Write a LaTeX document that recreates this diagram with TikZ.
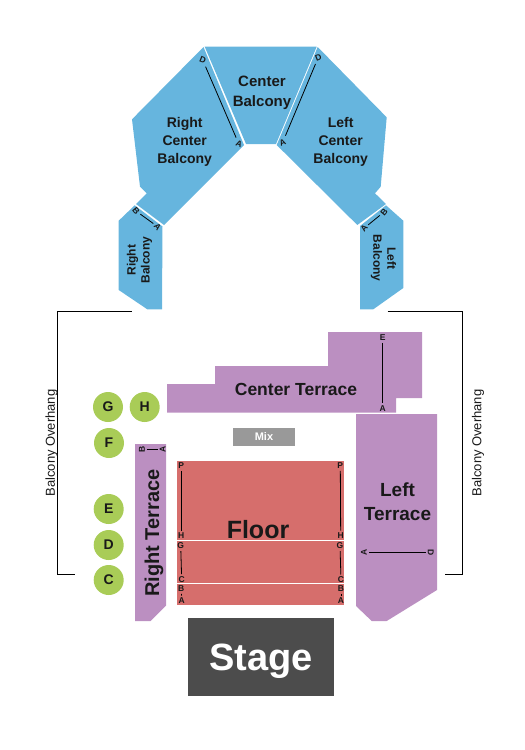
\documentclass[tikz,border=0pt]{standalone}
\usepackage{fontspec}
\setmainfont{Liberation Sans}
\usetikzlibrary{positioning}
\definecolor{balcony}{HTML}{66B5DE}
\definecolor{terrace}{HTML}{BB8FC1}
\definecolor{floorred}{HTML}{D66E6C}
\definecolor{pit}{HTML}{A9CC57}
\tikzset{
  seclabel/.style 2 args={
    font=\fontsize{#1}{#2}\selectfont\bfseries,
    align=center,
    text=black!90,
    inner sep=0pt
  },
  rowlabel/.style={
    font=\fontsize{8.5}{9}\selectfont\bfseries,
    text=black!90,
    inner sep=2pt
  },
  pitcircle/.style={
    circle,
    fill=pit,
    minimum size=30pt,
    inner sep=0pt,
    font=\fontsize{14}{16}\selectfont\bfseries,
    text=black!90
  },
  aisle/.style={
    black,
    line width=0.8pt
  },
  overhang/.style={
    black,
    line width=0.8pt
  }
}

\begin{document}
\begin{tikzpicture}[x=1pt,y=-1pt]
  \useasboundingbox (0,0) rectangle (525,750);

  % Balcony
  \fill[balcony]
    (204.7,46.7) -- (316.7,46.7) -- (276,144) -- (246,144) -- cycle;
  \fill[balcony]
    (203.5,47) -- (132,119.3) -- (140,186.7) -- (146.7,193.3) -- (136,204)
    -- (164,225) -- (244,145) -- cycle;
  \fill[balcony]
    (317.7,47) -- (386.7,117.3) -- (380.7,186.7) -- (375,193.3) -- (386,204)
    -- (357.3,225) -- (276.7,145) -- cycle;
  \fill[balcony]
    (134.7,205.3) -- (162.5,226.5) -- (162,309.3) -- (147.3,309.3)
    -- (118.7,290) -- (118.7,220.7) -- cycle;
  \fill[balcony]
    (386,205.3) -- (403.3,220.7) -- (403.3,288) -- (373.3,309.3)
    -- (360,309.3) -- (360,226) -- cycle;

  \node[seclabel={15}{20}] (centerbal) at (262,93) {Center\\Balcony};
  \node[seclabel={14}{18}] (rcenterbal) at (184.7,142) {Right\\Center\\Balcony};
  \node[seclabel={14}{18}] (lcenterbal) at (340.7,142) {Left\\Center\\Balcony};
  \node[seclabel={12}{14},rotate=90] (rbal) at (139.5,260) {Right\\Balcony};
  \node[seclabel={12}{14},rotate=-90] (lbal) at (383.5,258) {Left\\Balcony};

  \node[rowlabel,rotate=-22] (rcD) at (202.7,60) {D};
  \node[rowlabel,rotate=-22] (rcA) at (239,144.3) {A};
  \draw[aisle] (rcD) -- (rcA);
  \node[rowlabel,rotate=22] (lcD) at (318.3,57.3) {D};
  \node[rowlabel,rotate=22] (lcA) at (282.7,142.3) {A};
  \draw[aisle] (lcD) -- (lcA);
  \node[rowlabel,rotate=-50] (rbB) at (136,211) {B};
  \node[rowlabel,rotate=-50] (rbA) at (157.7,226.7) {A};
  \draw[aisle] (rbB) -- (rbA);
  \node[rowlabel,rotate=50] (lbB) at (384,212) {B};
  \node[rowlabel,rotate=50] (lbA) at (364,228.3) {A};
  \draw[aisle] (lbB) -- (lbA);

  % Overhang
  \coordinate (ohl0) at (131.7,311.3);
  \coordinate (ohl1) at (74.7,574.3);
  \coordinate (ohr0) at (387.7,311.3);
  \coordinate (ohr1) at (445,574.3);
  \draw[overhang] (ohl0) -- (57.3,311.3) -- (57.3,574.3) -- (ohl1);
  \draw[overhang] (ohr0) -- (462.3,311.3) -- (462.3,574.3) -- (ohr1);
  \node[seclabel={13}{15},font=\fontsize{13}{15}\selectfont,rotate=90] (ohltext) at (51.5,443) {Balcony Overhang};
  \node[seclabel={13}{15},font=\fontsize{13}{15}\selectfont,rotate=90] (ohrtext) at (478,443) {Balcony Overhang};

  % Terraces
  \fill[terrace]
    (167,384) -- (215,384) -- (215,366) -- (328,366) -- (328,332) -- (422,332)
    -- (422,398) -- (396,398) -- (396,412.7) -- (167,412.7) -- cycle;
  \fill[terrace]
    (356,414) -- (437,414) -- (437,590) -- (386.7,621) -- (371.7,621)
    -- (356,606) -- cycle;
  \fill[terrace]
    (135,444) -- (166,444) -- (166,605.7) -- (150.7,621) -- (135,621) -- cycle;

  \node[seclabel={17.5}{20}] (centerter) at (296,389) {Center Terrace};
  \node[seclabel={19}{24}] (leftter) at (397.5,502) {Left\\Terrace};
  \node[seclabel={20}{22},rotate=90] (rightter) at (154,533) {Right Terrace};

  \node[rowlabel] (ctE) at (382.7,337.7) {E};
  \node[rowlabel] (ctA) at (382.7,408.3) {A};
  \draw[aisle] (ctE) -- (ctA);
  \node[rowlabel,rotate=90] (rtB) at (142,449.7) {B};
  \node[rowlabel,rotate=90] (rtA) at (162.7,449.7) {A};
  \draw[aisle] (rtB) -- (rtA);
  \node[rowlabel,rotate=90] (ltA) at (364,552.3) {A};
  \node[rowlabel,rotate=-90] (ltD) at (430.7,552.3) {D};
  \draw[aisle] (ltA) -- (ltD);

  % Pit circles
  \node[pitcircle] (G) at (108,407) {G};
  \node[pitcircle] (H) at (144.7,407) {H};
  \node[pitcircle] (F) at (109,443) {F};
  \node[pitcircle] (E) at (108.7,509) {E};
  \node[pitcircle] (D) at (108.7,545) {D};
  \node[pitcircle] (C) at (108.7,580) {C};

  % Mix
  \node[
    fill=black!40,
    minimum width=62pt,
    minimum height=18pt,
    text=white,
    font=\fontsize{11}{13}\selectfont\bfseries
  ] (mix) at (264,437) {Mix};

  % Floor
  \fill[floorred] (177,461) rectangle (344,605);
  \coordinate (fl0) at (177,540.3);
  \coordinate (fr0) at (344,540.3);
  \coordinate (fl1) at (177,583.3);
  \coordinate (fr1) at (344,583.3);
  \draw[white,line width=0.8pt] (fl0) -- (fr0);
  \draw[white,line width=0.8pt] (fl1) -- (fr1);
  \node[seclabel={25}{27}] (floor) at (258,530) {Floor};

  \node[rowlabel] (lP) at (181.3,465.7) {P};
  \node[rowlabel] (lH) at (181.3,535.7) {H};
  \draw[aisle] (lP) -- (lH);
  \node[rowlabel] (lG) at (180.7,546) {G};
  \node[rowlabel] (lC) at (181.7,579.3) {C};
  \draw[aisle] (lG) -- (lC);
  \node[rowlabel] (lB) at (181.3,588.7) {B};
  \node[rowlabel] (lA) at (181.7,600.7) {A};
  \draw[aisle] (lB) -- (lA);
  \node[rowlabel] (rP) at (340.3,465.7) {P};
  \node[rowlabel] (rH) at (340.7,535.7) {H};
  \draw[aisle] (rP) -- (rH);
  \node[rowlabel] (rG) at (340,546) {G};
  \node[rowlabel] (rC) at (341,579.7) {C};
  \draw[aisle] (rG) -- (rC);
  \node[rowlabel] (rB) at (341,588.7) {B};
  \node[rowlabel] (rA) at (341,600.7) {A};
  \draw[aisle] (rB) -- (rA);

  % Stage
  \node[
    fill=black!70,
    minimum width=146pt,
    minimum height=78pt,
    text=white,
    font=\fontsize{38}{40}\selectfont\bfseries,
    text height=27pt,
    text depth=0pt
  ] (stage) at (261,657) {Stage};

\end{tikzpicture}
\end{document}
